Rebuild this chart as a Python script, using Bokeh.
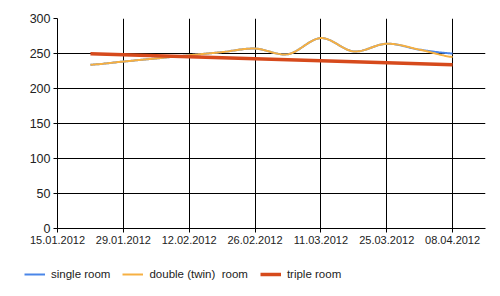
import numpy as np
from datetime import datetime
from bokeh.plotting import figure
from bokeh.layouts import column, row
from bokeh.models import (FixedTicker, DatetimeTickFormatter, Range1d, Legend, LegendItem)
from bokeh.embed import file_html
from bokeh.resources import INLINE

# ---- data ----
dates = ["2012-01-22", "2012-01-29", "2012-02-05", "2012-02-12", "2012-02-19", "2012-02-26",
         "2012-03-04", "2012-03-11", "2012-03-18", "2012-03-25", "2012-04-01", "2012-04-08"]
single_room = [234, 238.5, 243, 247.5, 252, 257, 249, 272, 253, 264, 255.5, 250]
double_room = [234, 238.5, 243, 247.5, 252, 257, 249, 272, 253, 264, 255.5, 245]
triple_dates = ["2012-01-22", "2012-04-08"]
triple_room = [249.5, 234]
series_names = ["single room", "double (twin)  room", "triple room"]
tick_dates = ["2012-01-15", "2012-01-29", "2012-02-12", "2012-02-26",
              "2012-03-11", "2012-03-25", "2012-04-08"]
y_ticks = [0, 50, 100, 150, 200, 250, 300]
x_start, x_end = "2012-01-15", "2012-04-15"
y_start, y_end = 0, 300

colors = ["#4a86e8", "#f6b042", "#d64a1c"]
widths = [2, 2, 3.5]
FONT = "Liberation Sans"


def ms(d):
    return datetime.strptime(d, "%Y-%m-%d").timestamp() * 1000.0


def smooth(xs, ys, n=24):
    # Catmull-Rom rendering of the curve through the data points
    xs = np.asarray(xs, float)
    ys = np.asarray(ys, float)
    px = np.concatenate([[2 * xs[0] - xs[1]], xs, [2 * xs[-1] - xs[-2]]])
    py = np.concatenate([[ys[0]], ys, [ys[-1]]])
    ox, oy = [], []
    for i in range(1, len(px) - 2):
        t = np.linspace(0, 1, n, endpoint=False)
        for arr, out in ((px, ox), (py, oy)):
            p0, p1, p2, p3 = arr[i - 1], arr[i], arr[i + 1], arr[i + 2]
            out.extend(0.5 * ((2 * p1) + (-p0 + p2) * t + (2 * p0 - 5 * p1 + 4 * p2 - p3) * t ** 2
                              + (-p0 + 3 * p1 - 3 * p2 + p3) * t ** 3))
    ox.append(xs[-1])
    oy.append(ys[-1])
    return ox, oy


p = figure(width=500, height=258, output_backend="svg", toolbar_location=None,
           x_axis_type="datetime",
           x_range=Range1d(ms(x_start), ms(x_end)), y_range=Range1d(y_start, y_end),
           min_border_left=57, min_border_right=15, min_border_top=18, min_border_bottom=30)
p.outline_line_color = None
p.background_fill_color = "white"
p.border_fill_color = "white"

xd = [ms(d) for d in dates]
sx, sy = smooth(xd, single_room)
p.line(sx, sy, line_color=colors[0], line_width=widths[0])
dx, dy = smooth(xd, double_room)
p.line(dx, dy, line_color=colors[1], line_width=widths[1])
p.line([ms(d) for d in triple_dates], triple_room, line_color=colors[2], line_width=widths[2])

# axes
p.xaxis.ticker = FixedTicker(ticks=[ms(d) for d in tick_dates])
fmt = "%d.%m.%Y"
p.xaxis.formatter = DatetimeTickFormatter(milliseconds=fmt, seconds=fmt, minsec=fmt, minutes=fmt,
                                          hourmin=fmt, hours=fmt, days=fmt, months=fmt, years=fmt)
p.yaxis.ticker = FixedTicker(ticks=y_ticks)
for ax in (p.xaxis[0], p.yaxis[0]):
    ax.axis_line_color = "black"
    ax.major_tick_line_color = "black"
    ax.major_tick_in = 0
    ax.major_tick_out = 4
    ax.minor_tick_line_color = None
    ax.major_label_text_font = FONT
    ax.major_label_text_color = "#222222"
    ax.major_label_standoff = 3
p.xaxis.major_label_text_font_size = "11px"
p.yaxis.major_label_text_font_size = "12.5px"

p.xgrid.grid_line_color = "black"
p.ygrid.grid_line_color = "black"
p.xgrid.ticker = p.xaxis.ticker
p.ygrid.ticker = p.yaxis.ticker

# legend strip below the chart
lg = figure(width=500, height=38, output_backend="svg", toolbar_location=None,
            x_axis_location=None, y_axis_location=None,
            x_range=Range1d(0, 1), y_range=Range1d(0, 1),
            min_border_left=0, min_border_right=0, min_border_top=0, min_border_bottom=0)
lg.outline_line_color = None
lg.grid.visible = False
items = []
for name, c, w in zip(series_names, colors, widths):
    r = lg.line(x=[np.nan], y=[np.nan], line_color=c, line_width=w)
    items.append(LegendItem(label=name, renderers=[r]))
legend = Legend(items=items, orientation="horizontal", location=(24, 12),
                glyph_width=21, glyph_height=20, label_standoff=6, spacing=12,
                padding=0, margin=0, border_line_color=None, background_fill_alpha=0,
                label_text_font=FONT, label_text_font_size="11.5px", label_text_color="#222222")
lg.add_layout(legend, "center")

layout = column(p, row(lg, spacing=0), spacing=0)
open("out.html", "w").write(file_html(layout, INLINE))
